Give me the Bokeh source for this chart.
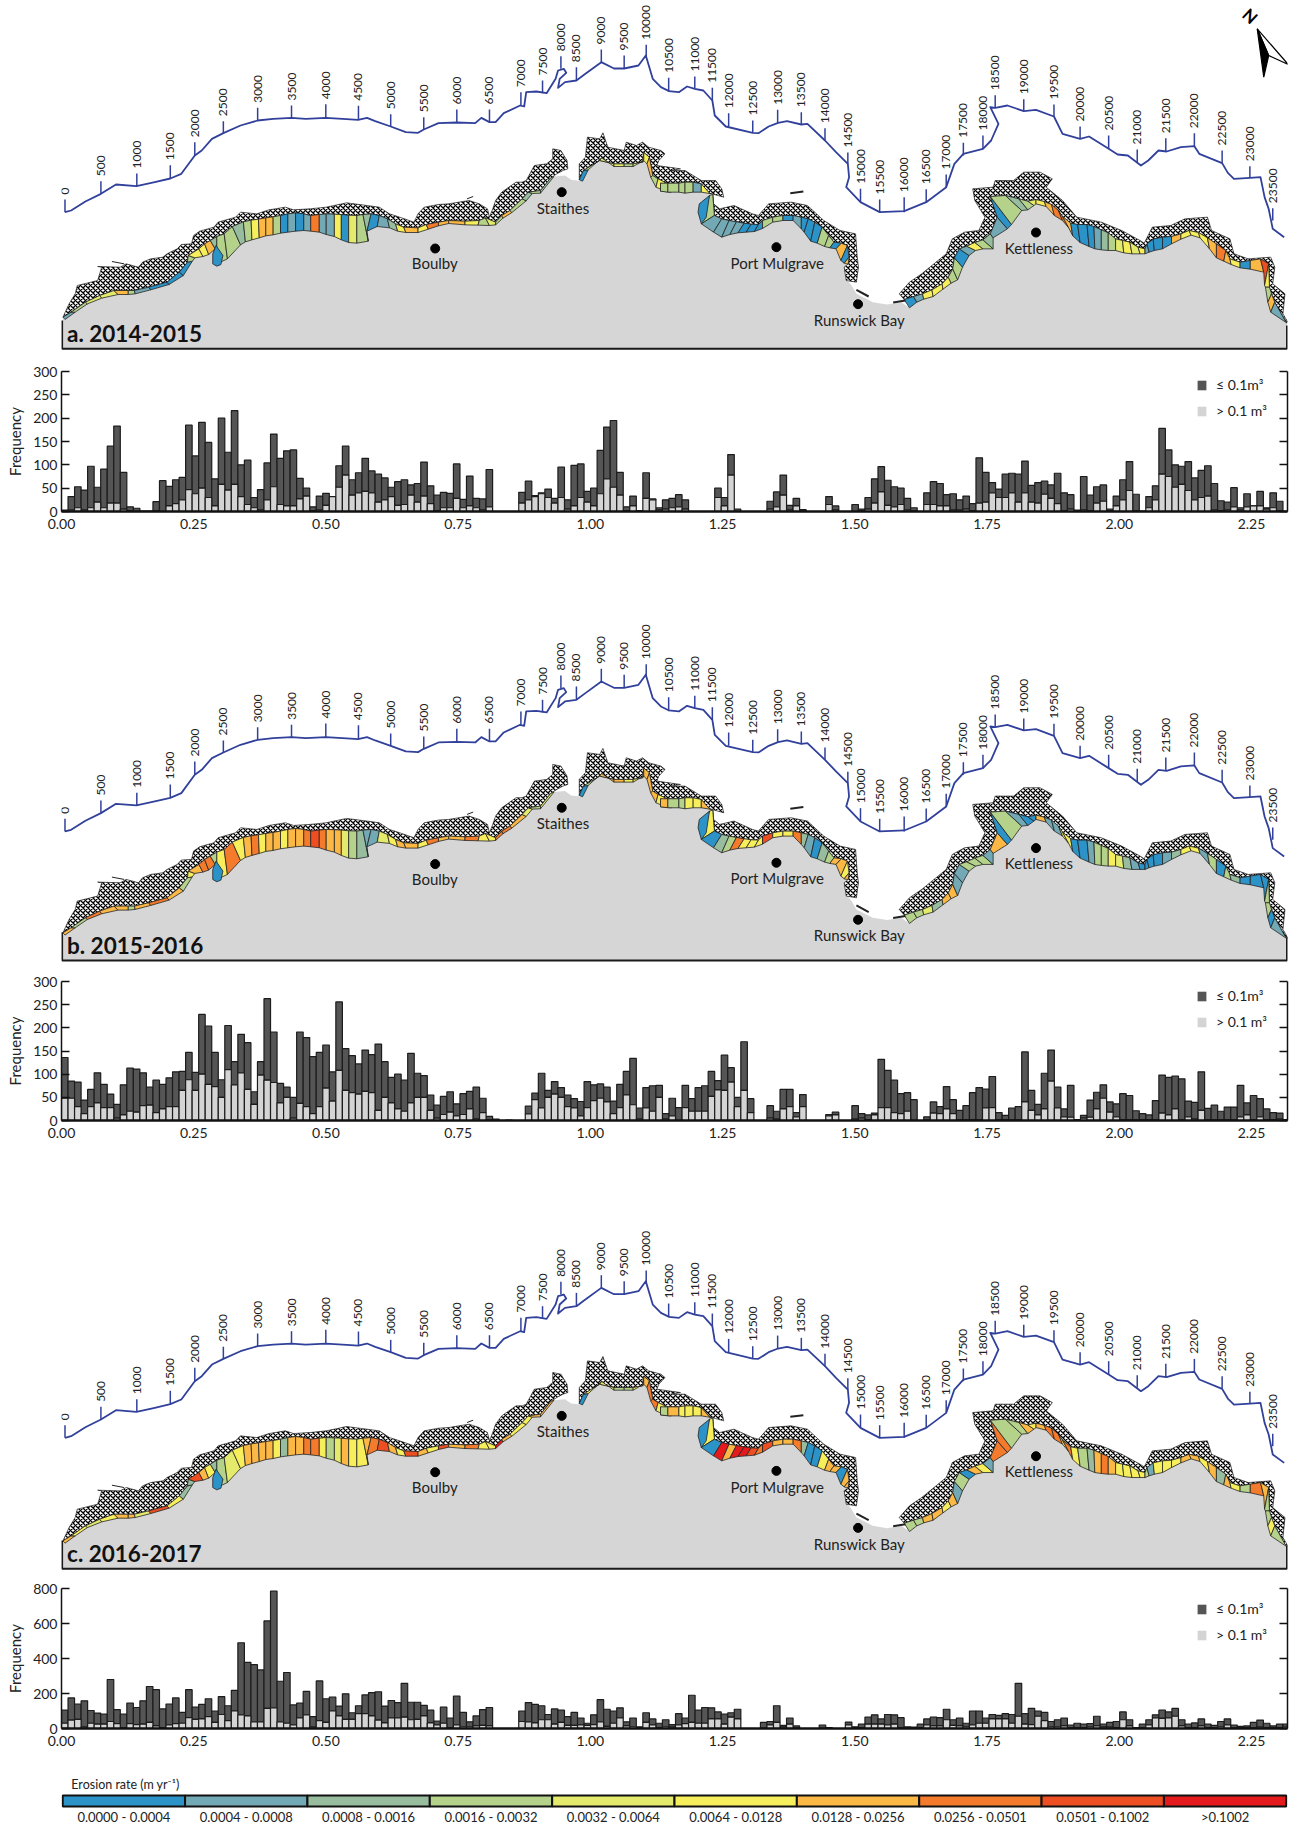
from bokeh.plotting import figure
from bokeh.layouts import column
from bokeh.models import Range1d, FixedTicker, LinearAxis, NumeralTickFormatter, Legend, LegendItem, Label
from bokeh.core.properties import value
from bokeh.embed import file_html
from bokeh.resources import INLINE
import math

FONT = "Lato"
PALETTE = ["#2c93c9", "#72a9b4", "#97bd9e", "#b5d28b", "#e3ea6c", "#f7ee5c", "#fbb845", "#f47b2b", "#ee4f22", "#e51a1c"]
RATE_LABELS = ["0.0000 - 0.0004", "0.0004 - 0.0008", "0.0008 - 0.0016", "0.0016 - 0.0032", "0.0032 - 0.0064",
               "0.0064 - 0.0128", "0.0128 - 0.0256", "0.0256 - 0.0501", "0.0501 - 0.1002", ">0.1002"]
BIN = 0.01235

A_TOTAL = [3,32,53,46,97,52,91,140,183,84, 10,7,1,1,21,66,54,68,73,185, 119,191,148,70,200,127,216,100,110,30,
           47,104,166,114,130,132,71,50,10,33, 39,32,98,140,68,83,114,87,80,72, 52,64,68,57,60,106,55,35,41,39,
           102,26,76,28,27,90,0,0,0,0, 41,65,34,40,48,28,95,25,99,102, 43,50,131,181,195,84,10,33,2,83,
           27,8,25,28,36,25,0,0,0,0, 50,30,122,5,0,0,0,0,22,42, 78,13,28,4,0,0,0,32,12,0,
           0,15,5,30,70,96,67,53,50,28, 8,0,40,64,60,36,38,25,33,17, 115,84,62,48,80,82,80,108,56,62,
           65,57,82,40,36,3,75,35,53,57, 5,33,68,107,37,1,32,55,178,132, 100,97,107,72,88,98,60,23,20,51,
           8,38,12,43,8,40,22,0]
A_LIGHT = [0,3,8,3,8,20,8,18,18,5, 2,0,0,0,2,0,12,17,25,47, 38,50,30,12,58,46,58,32,15,8,
           3,25,53,15,12,12,27,33,2,3, 13,32,52,78,35,40,43,40,20,25, 32,13,15,35,20,33,17,2,8,8,
           28,8,12,8,3,10,0,0,0,0, 18,25,32,38,30,18,30,5,12,30, 20,12,38,70,52,35,2,12,0,28,
           25,3,5,8,10,5,0,0,0,0, 30,12,78,0,0,0,0,0,5,10, 35,3,12,2,0,0,0,15,3,0,
           0,0,2,5,18,42,13,10,15,3, 1,0,15,15,12,12,3,3,5,2, 18,20,40,30,30,40,20,40,20,18,
           37,28,17,2,5,1,3,2,18,22, 2,12,25,45,2,0,8,25,80,75, 52,58,45,25,30,33,3,2,3,10,
           3,10,12,12,5,8,2,0]
B_TOTAL = [136,85,83,44,67,103,78,57,35,77, 113,111,103,72,87,78,92,105,106,147, 104,229,204,147,88,205,127,186,168,62,
           127,263,191,80,72,50,191,179,138,147, 163,105,256,155,140,122,152,142,165,127, 93,100,87,145,102,97,55,33,52,62,
           36,58,63,72,48,9,3,0,1,0, 0,31,59,102,65,84,71,55,47,41, 84,77,79,72,42,78,106,134,27,71,
           75,76,15,48,28,76,47,71,75,106, 86,141,114,50,170,47,0,0,32,20, 67,67,17,56,0,0,0,13,18,0,
           0,32,15,12,16,132,108,87,58,60, 45,0,8,40,30,73,45,22,32,60, 71,68,95,17,11,27,30,148,65,35,
           102,152,72,25,76,2,11,44,61,77, 40,36,58,54,21,15,12,43,98,93, 96,90,42,39,105,26,33,20,29,29,
           76,38,54,47,25,17,16,2]
B_LIGHT = [48,48,30,15,30,38,28,28,5,12, 20,18,32,33,17,25,30,30,65,88, 65,100,78,73,50,110,77,103,67,35,
           98,87,82,38,50,5,37,30,15,30, 70,42,108,65,60,57,63,60,22,50, 38,25,20,38,50,50,22,5,13,18,
           10,13,25,3,17,1,0,0,0,0, 0,14,45,27,50,57,50,30,27,10, 28,43,48,40,15,28,55,34,3,27,
           20,50,3,10,0,28,20,20,20,52, 66,65,83,30,65,17,0,0,5,3, 25,30,8,30,0,0,0,10,12,0,
           0,3,5,2,12,28,28,17,15,20, 0,0,1,16,15,25,15,1,1,1, 1,27,28,1,1,1,1,40,22,12,
           25,85,27,8,7,0,5,7,25,48, 18,8,1,1,1,1,1,1,16,12, 25,1,8,3,22,1,1,1,1,1,
           8,12,2,8,2,2,3,0]
C_TOTAL = [105,175,140,158,103,88,82,280,108,82, 145,120,158,240,222,112,140,175,92,222, 122,138,170,100,182,130,218,490,378,365,
           335,615,785,270,320,135,145,212,68,272, 170,180,128,198,90,130,192,205,210,128, 160,148,258,150,150,132,105,42,122,60,
           185,92,38,72,108,120,0,0,0,0, 100,148,138,130,80,112,105,68,92,60, 30,78,165,110,100,118,38,60,10,
           90,55,30,50,22,85,60,190,105,120,118, 95,82,90,110,0,0,0,35,40,130, 18,60,15,0,0,0,20,5,0,0,
           37,10,25,65,78,55,80,78,62,10, 8,25,55,65,62,110,50,60,30,100, 100,60,80,75,85,80,258,85,115,100,
           92,40,50,60,20,30,25,28,70,25, 35,40,95,50,5,25,50,78,105,95, 115,50,25,32,55,25,18,40,55,20,
           12,15,35,48,30,15,25,25]
C_LIGHT = [30,48,52,8,30,25,25,40,28,5, 28,22,25,35,15,5,20,28,30,62, 52,55,68,35,80,45,100,78,72,38,
           38,115,118,38,30,20,60,78,8,45, 35,100,72,52,52,85,85,72,48,32, 60,60,65,50,52,72,32,20,30,5,
           20,10,10,15,18,15,0,0,0,0, 40,38,32,50,50,25,35,18,18,20, 18,22,38,12,30,60,15,10,3,
           35,20,5,10,8,20,28,35,30,30,55, 55,25,65,55,0,0,0,1,20,35, 8,25,1,0,0,0,1,2,0,0,
           20,3,5,25,25,25,20,25,5,2, 1,5,20,15,15,50,18,15,10,20, 30,30,55,55,55,30,70,25,22,70,
           45,10,10,15,3,5,5,10,15,8, 8,5,50,15,1,5,20,60,58,60, 70,15,5,5,15,5,3,10,20,2,
           2,2,3,8,5,2,5,10]

# ---- map geometry, in map units (x = 40 + mx/2.45, y = my/3). R shifts the eastern half
R = 1519
STAFF_LINE = [(60,635),(75,630),(110,603),(148,580),(185,552),(235,557),(280,545),(318,534),(345,520),(378,465),(395,450),(420,415),(448,398),(490,375),(532,360),(570,355),(615,352),(650,355),(699,352),(750,356),(778,358),(800,352),(820,362),(858,378),(895,395),(925,397),(939,387),(975,368),(1020,366),(1065,368),(1080,352),(1100,365),(1115,365),(1135,338),(1175,315),(1185,318),(1190,275),(1215,273),(1240,278),(1262,235),(1268,210),(1282,205),(1288,217),(1272,235),(1268,262),(1285,245),(1313,240),(1335,220),(1374,185),(1405,204),(1430,204),(1465,195),(1483,165),(1500,235),(1520,260),(1540,272)]
STAFF_LINE_E = [(20,272),(45,275),(65,258),(84,265),(105,270),(127,300),(133,345),(160,378),(226,397),(240,398),(265,378),(288,367),(310,362),(345,372),(360,370),(403,420),(430,455),(459,490),(462,530),(455,560),(490,605),(537,635),(597,632),(651,605),(700,560),(720,490),(742,460),(790,445),(810,420),(828,370),(808,320),(820,322),(850,315),(890,332),(920,328),(964,348),(985,400),(1028,415),(1050,408),(1098,445),(1120,462),(1145,465),(1177,495),(1195,480),(1220,450),(1240,453),(1275,440),(1308,437),(1320,460),(1376,488),(1390,517),(1405,535),(1444,532),(1470,530),(1480,590),(1490,625),(1500,685),(1528,710)]
STAFF_VALUES = list(range(0, 24000, 500))
STAFF_TICKS = [(60,635,597),(148,580,542),(236,557,519),(318,534,494),(378,465,425),(448,398,362),(532,360,322),(615,352,315),(699,352,311),(779,358,316),(858,378,341),(939,387,350),(1020,366,327),(1100,365,327),(1177,315,275),(1230,278,240),(1275,205,167),(1313,240,200),(1374,185,147),(1430,204,165),(1484,168,133),
               (20+R,272,232),(84+R,265,228),(127+R,300,262),(167+R,378,338),(226+R,397,360),(287+R,367,328),(345+R,372,335),(403+R,420,383),(459+R,490,456),(490+R,605,565),(537+R,635,597),(597+R,635,590),(651+R,605,566),(700+R,560,522),(742+R,465,427),(790+R,445,405),(820+R,322,284),(890+R,332,296),(964+R,348,312),(1028+R,415,378),(1098+R,445,405),(1168+R,485,447),(1238+R,453,413),(1308+R,437,398),(1376+R,488,450),(1444+R,532,497),(1500+R,660,623)]

# cliff sections: outer x, outer y, inner x, inner y, erosion class for panels a, b, c
CLIFF_1 = [(55,950,60,957,"166"),(75,935,85,935,"335"),(110,905,115,910,"474"),(145,885,150,893,"465"),(180,870,190,882,"666"),(215,870,215,882,"336"),(230,870,232,880,"164"),(265,860,270,868,"078"),(310,845,315,852,"065"),(340,815,350,825,"032"),(360,785,372,782,"352"),(362,765,378,772,"568"),(388,745,398,768,"576"),(402,730,412,762,"675"),(416,720,428,745,"232"),
           (432,708,432,790,"353"),(450,700,458,775,"374"),(470,678,490,733,"255"),(497,664,502,724,"366"),(516,659,518,718,"576"),(534,656,536,712,"656"),(552,652,552,706,"666"),(570,649,570,703,"365"),(588,645,588,698,"052"),(606,640,606,695,"166"),(625,637,625,692,"066"),(645,640,645,690,"177"),(662,645,662,692,"787"),(683,642,683,695,"175"),(700,640,700,702,"163"),(720,641,720,708,"564"),(737,642,737,718,"046"),(755,644,755,726,"435"),(775,645,775,728,"325"),(790,642,803,722,"216"),(810,640,800,692,"017"),(830,645,825,678,"148"),(850,655,855,682,"256"),(870,670,875,692,"565"),(890,680,895,696,"668"),(925,682,925,696,"556"),(945,672,950,686,"775"),(975,665,975,676,"668"),(1000,660,1000,669,"666"),(1040,662,1040,673,"577"),(1075,660,1072,674,"355"),(1090,652,1100,675,"455"),(1115,665,1115,673,"379"),(1130,645,1133,653,"676"),(1150,630,1155,636,"365"),(1180,595,1190,601,"245"),(1195,575,1205,579,"336"),(1225,570,1225,578,"246"),(1250,532,1258,528,"000")]
CLIFF_2 = [(1320,538,1328,542,"000"),(1330,510,1342,508,"335"),(1370,480,1375,472,"465"),(1405,490,1405,498,"463"),(1430,490,1430,498,"353"),(1452,490,1452,498,"455"),(1475,485,1480,478,"556"),(1478,456,1478,480,"566"),(1492,470,1486,490,"667"),(1500,525,1495,530,"367"),(1513,535,1508,560,"555"),(1530,545,1527,570,"555"),(1547,555,1545,575,"366"),
           (R,548,R,572,"363"),(18+R,548,18+R,575,"336"),(45+R,548,45+R,575,"335"),(60+R,545,60+R,578,"355"),(80+R,545,80+R,575,"155"),(100+R,550,100+R,575,"566"),(120+R,578,125+R,580,"666")]
CLIFF_3 = [(128,582,120,585,"355"),(132,645,100,670,"100"),(150,655,130,695,"129"),(168,660,150,710,"136"),(186,664,170,702,"179"),(205,668,190,697,"059"),(222,671,210,695,"058"),(240,672,230,693,"057"),(250,660,250,684,"388"),(275,650,275,665,"356"),(300,645,300,660,"056"),(325,645,325,660,"177"),(345,650,345,685,"022"),(362,655,352,695,"010"),(378,665,368,722,"000"),(396,680,384,728,"325"),(412,705,402,738,"336"),(425,725,415,742,"066"),(443,728,430,745,"660"),(458,735,442,780,"056"),(462,770,450,788,"666"),(460,790,455,790,"666")]
CLIFF_4 = [(597,897,610,922,"033"),(620,888,628,905,"133"),(642,880,645,896,"546"),(665,868,668,888,"526"),(690,850,692,866,"565"),(705,830,712,848,"366"),(716,805,728,838,"311"),(720,772,740,800,"013"),(732,745,756,765,"130"),(750,737,772,750,"536"),(770,726,790,745,"335"),(790,718,815,745,"211"),(808,700,815,712,"167"),(825,650,850,685,"007"),(808,588,860,672,"333"),(845,585,885,630,"213"),(878,595,900,628,"306"),(900,602,915,615,"405"),(920,597,920,610,"566"),(940,603,945,618,"617"),(958,612,965,645,"717"),(975,630,985,660,"755"),(985,648,1000,682,"657"),(1005,668,1010,706,"005"),(1022,672,1028,726,"003"),(1045,672,1050,738,"012"),(1062,678,1064,745,"136"),(1080,688,1080,748,"237"),(1097,697,1097,750,"356"),(1115,715,1115,750,"445"),(1132,720,1135,757,"525"),(1150,725,1155,760,"415"),(1170,740,1175,760,"505"),(1187,745,1187,760,"103"),(1192,730,1197,755,"001"),(1207,716,1210,750,"005"),(1230,710,1230,745,"015"),(1252,708,1252,730,"625"),(1275,700,1275,716,"556"),(1295,690,1300,704,"556"),(1318,696,1322,712,"515"),(1340,712,1345,745,"636"),(1362,730,1362,772,"702"),(1385,750,1380,782,"636"),(1395,775,1398,792,"525"),(1420,785,1420,802,"003"),(1445,780,1445,806,"607"),(1470,775,1478,815,"806"),(1490,790,1480,855,"533"),(1492,860,1482,860,"333"),(1497,880,1488,905,"605"),(1505,905,1495,935,"113"),(1530,960,1535,968,"555")]
SEA_1 = [(70,910),(85,880),(90,855),(140,840),(150,800),(140,798),(195,800),(210,790),(240,800),(250,785),(270,775),(300,770),(310,760),(335,745),(345,732),(370,730),(375,705),(390,692),(425,680),(435,665),(478,650),(490,635),(530,640),(560,628),(600,620),(620,628),(660,625),(700,620),(750,607),(800,615),(830,620),(855,640),(880,650),(915,665),(925,640),(940,620),(975,612),(1000,610),(1050,600),(1075,610),(1095,625),(1100,650),(1108,625),(1115,600),(1130,575),(1165,545),(1180,545),(1190,540),(1210,495),(1240,490),(1255,475),(1255,445),(1275,450),(1290,480),(1292,505),(1280,510),(1265,520)]
SEA_2 = [(1320,490),(1335,470),(1340,410),(1370,415),(1378,397),(1390,440),(1430,450),(1435,425),(1460,435),(1475,425),(1490,440),(1520,450),(1530,460),(1515,480),(1510,495),(1568,505),(R+25,510),(R+60,510),(R+100,540),(R+135,540),(R+150,565),(R+155,590)]
SEA_3 = [(130,610),(145,625),(180,615),(225,640),(240,645),(265,610),(320,605),(360,615),(400,660),(440,690),(478,700),(482,770),(485,800),(480,845),(455,840),(450,800)]
SEA_4 = [(585,880),(610,845),(640,820),(670,790),(700,760),(715,715),(745,695),(780,690),(795,650),(770,600),(765,565),(815,560),(820,540),(865,540),(890,515),(930,515),(960,535),(945,560),(985,600),(1020,650),(1080,665),(1130,690),(1175,720),(1185,728),(1205,680),(1250,675),(1285,655),(1340,650),(1350,690),(1395,715),(1405,760),(1440,775),(1495,770),(1505,800),(1500,850),(1530,880),(1525,940),(1537,965)]
LOBES = [([(430,735),(422,760),(422,790),(432,797),(442,792),(447,765)], "000"),
         ([(120+R,585),(112+R,650),(100+R,670),(92+R,635),(95+R,610)], "000")]
ISLETS = [[(480+R,868),(510+R,888)],[(318+R,578),(350+R,573)],[(570+R,906),(600+R,900)]]
ISLETS_THIN = [[(175,783),(205,790)],[(1045,595),(1060,588)]]
BAY_EDGE = [(455,835),(468,855),(480,880),(520,905),(555,912),(590,905)]
PLACES = [("Boulby",967,744,966,788),("Staithes",1277,575,1280,621),("Port Mulgrave",284+R,740,286+R,787),("Runswick Bay",484+R,911,487+R,958),("Kettleness",920+R,696,927+R,741)]
ARROW_DARK = [(1462+R,85),(1490+R,165),(1478+R,230)]
ARROW_LIGHT = [(1462+R,85),(1538+R,192),(1490+R,165)]

def mx(v): return 40 + v / 2.45
def my(v): return v / 3

def east(rows):
    return [(r[0]+R, r[1], r[2]+R, r[3], r[4]) for r in rows]
def east2(pts):
    return [(a+R, b) for a, b in pts]

SECTIONS = [CLIFF_1, CLIFF_2, east(CLIFF_3), east(CLIFF_4)]
SEAS = [SEA_1, SEA_2, east2(SEA_3), east2(SEA_4)]

FW = 1295
FL = 61
FR = 8


def map_fig(top, bottom, idx, dcoast, dstaff, dpanel, title):
    p = figure(width=FW, height=bottom-top, x_range=Range1d(FL, FW-FR), y_range=Range1d(bottom, top),
               x_axis_type=None, y_axis_type=None, toolbar_location=None, output_backend="svg",
               min_border=0, min_border_left=FL, min_border_right=FR, min_border_top=0, min_border_bottom=0,
               outline_line_color=None)
    edge = [(55, 955)]
    for k, sec in enumerate(SECTIONS):
        edge += [(r[2], r[3]) for r in sec]
        if k == 0:
            edge += [(1285, 525), (1300, 538)]
        if k == 2:
            edge += east2(BAY_EDGE)
    edge.append((1535+R, 975))
    lx = [mx(a) for a, b in edge]
    ly = [my(b)+dcoast for a, b in edge]
    left, right = FL+0.6, mx(1535+R)
    base = my(1045)+dpanel
    p.patch(lx+[right, left], ly+[base, base], fill_color="#d6d6d6", line_color=None)
    p.line([left, left, right, right], [my(960)+dpanel, base, base, my(975)+dpanel], line_color="#1a1a1a", line_width=2)
    hx, hy = [], []
    for sec, sea in zip(SECTIONS, SEAS):
        pts = sea + [(r[0], r[1]) for r in reversed(sec)]
        hx.append([mx(a) for a, b in pts])
        hy.append([my(b)+dcoast for a, b in pts])
    p.patches(hx, hy, fill_color="white", hatch_pattern="diagonal_cross", hatch_color="black", hatch_scale=5,
              hatch_weight=1.3, line_color="#222222", line_width=0.7)
    cx, cy, cc = [], [], []
    for sec in SECTIONS:
        for r0, r1 in zip(sec[:-1], sec[1:]):
            pts = [(r0[0], r0[1]), (r1[0], r1[1]), (r1[2], r1[3]), (r0[2], r0[3])]
            cx.append([mx(a) for a, b in pts])
            cy.append([my(b)+dcoast for a, b in pts])
            cc.append(PALETTE[int(r0[4][idx])])
    for pts, cl in LOBES:
        cx.append([mx(a) for a, b in pts])
        cy.append([my(b)+dcoast for a, b in pts])
        cc.append(PALETTE[int(cl[idx])])
    p.patches(cx, cy, fill_color=cc, line_color="#222222", line_width=0.8)
    p.multi_line([[mx(a) for a, b in s] for s in ISLETS], [[my(b)+dcoast for a, b in s] for s in ISLETS],
                 line_color="#222222", line_width=2)
    p.multi_line([[mx(a) for a, b in s] for s in ISLETS_THIN], [[my(b)+dcoast for a, b in s] for s in ISLETS_THIN],
                 line_color="#222222", line_width=1)
    p.scatter([mx(r[1]) for r in PLACES], [my(r[2])+dcoast for r in PLACES], size=9, color="black")
    p.text([mx(r[3]) for r in PLACES], [my(r[4])+dcoast for r in PLACES], text=[r[0] for r in PLACES],
           text_font=value(FONT), text_font_size="15px", text_align="center", text_baseline="middle", text_color="#222222")
    sx = [mx(a) for a, b in STAFF_LINE] + [mx(a+R) for a, b in STAFF_LINE_E]
    sy = [my(b)+dstaff for a, b in STAFF_LINE] + [my(b)+dstaff for a, b in STAFF_LINE_E]
    p.line(sx, sy, line_color="#31409a", line_width=1.8, line_join="round")
    tx = [mx(t[0]) for t in STAFF_TICKS]
    p.segment(tx, [my(t[1])+dstaff for t in STAFF_TICKS], tx, [my(t[2])+dstaff for t in STAFF_TICKS],
              line_color="#31409a", line_width=1.5)
    p.text(tx, [my(t[2])+dstaff-5 for t in STAFF_TICKS], text=[str(v) for v in STAFF_VALUES], angle=math.pi/2,
           text_font=value(FONT), text_font_size="12px", text_align="left", text_baseline="middle", text_color="#222222")
    p.text([mx(65)], [my(1000)+dpanel], text=[title], text_font=value(FONT), text_font_style="bold",
           text_font_size="22.5px", text_baseline="middle", text_color="#111111")
    if idx == 0:
        p.patch([mx(a) for a, b in ARROW_LIGHT], [my(b) for a, b in ARROW_LIGHT], fill_color="white", line_color="black", line_width=1.2)
        p.patch([mx(a) for a, b in ARROW_DARK], [my(b) for a, b in ARROW_DARK], fill_color="black", line_color="black", line_width=1.2)
        p.text([mx(1445+R)], [my(46)], text=["N"], angle=-0.75, text_font=value(FONT), text_font_style="bold",
               text_font_size="17px", text_align="center", text_baseline="middle", text_color="black")
    return p


def hist_fig(total, light, ymax, step, height, top, frame, bottom, legend_bottom):
    p = figure(width=FW, height=height, x_range=Range1d(0, 2.318), y_range=Range1d(0, ymax),
               toolbar_location=None, output_backend="svg", min_border_left=FL, min_border_right=FR,
               min_border_top=top, min_border_bottom=bottom, outline_line_color=None)
    p.grid.visible = False
    xs = [(i+0.5)*BIN for i in range(len(total))]
    p.vbar(x=xs, width=BIN, bottom=light, top=total, fill_color="#555555", line_color="#1c1c1c", line_width=1.2)
    p.vbar(x=xs, width=BIN, bottom=0, top=light, fill_color="#d4d4d4", line_color="#1c1c1c", line_width=1.2)
    ticks = list(range(0, ymax+1, step))
    ax = p.xaxis[0]
    ax.ticker = FixedTicker(ticks=[0, .25, .5, .75, 1, 1.25, 1.5, 1.75, 2, 2.25])
    ax.formatter = NumeralTickFormatter(format="0.00")
    ax.major_tick_in = 0
    ax.major_tick_out = 0
    ax.minor_tick_out = 0
    ax.minor_tick_in = 0
    ax.axis_line_width = 2.5
    ax.axis_line_color = "#111111"
    ax.major_label_text_font = FONT
    ax.major_label_text_font_size = "14px"
    ax.major_label_text_color = "#222222"
    ax.major_label_standoff = 7
    p.add_layout(Label(x=1.199, y=-34*ymax/frame, text="Distance along coast (× 10⁴ m)", text_font=FONT, text_font_size="16.5px",
                       text_color="#222222", text_align="center", text_baseline="middle"))
    ay = p.yaxis[0]
    ay.ticker = FixedTicker(ticks=ticks)
    ay.major_tick_in = 8
    ay.major_tick_out = 0
    ay.minor_tick_in = 0
    ay.minor_tick_out = 0
    ay.axis_line_width = 1.5
    ay.major_tick_line_width = 1.5
    ay.axis_line_color = "#111111"
    ay.major_tick_line_color = "#111111"
    ay.major_label_text_font = FONT
    ay.major_label_text_font_size = "14px"
    ay.major_label_text_color = "#222222"
    ay.major_label_standoff = 4
    ay.axis_label = "Frequency"
    ay.axis_label_text_font = FONT
    ay.axis_label_text_font_style = "normal"
    ay.axis_label_text_font_size = "15px"
    ay.axis_label_text_color = "#222222"
    ay.axis_label_standoff = 6
    rt = LinearAxis(ticker=FixedTicker(ticks=ticks), major_tick_in=8, major_tick_out=0, minor_tick_in=0, minor_tick_out=0,
                    axis_line_width=1.5, major_tick_line_width=1.5, axis_line_color="#111111", major_tick_line_color="#111111",
                    major_label_overrides={t: "" for t in ticks}, major_label_standoff=0, major_label_text_font_size="1px")
    p.add_layout(rt, "right")
    # swatches for the legend: their single box lies left of the visible range
    k1 = p.quad(left=[-1], right=[-0.9], top=[1], bottom=[0], fill_color="#555555", line_color=None)
    k2 = p.quad(left=[-1], right=[-0.9], top=[1], bottom=[0], fill_color="#d4d4d4", line_color=None)
    lg = Legend(items=[LegendItem(label="≤ 0.1m³", renderers=[k1]), LegendItem(label="> 0.1 m³", renderers=[k2])],
                location=(1135, legend_bottom), orientation="vertical", background_fill_alpha=0, border_line_color=None,
                padding=0, margin=0, glyph_width=11, glyph_height=12, spacing=9, label_standoff=9, label_height=12,
                label_text_font=FONT, label_text_font_size="14px", label_text_color="#222222")
    p.add_layout(lg, "center")
    return p


def scale_fig():
    p = figure(width=FW, height=54, x_range=Range1d(-0.01, 10.01), y_range=Range1d(54, 0),
               x_axis_type=None, y_axis_type=None, toolbar_location=None, output_backend="svg",
               min_border=0, min_border_left=FL, min_border_right=FR, min_border_top=0, min_border_bottom=0, outline_line_color=None)
    n = len(PALETTE)
    p.quad(left=list(range(n)), right=list(range(1, n+1)), top=[23]*n, bottom=[34]*n, fill_color=PALETTE,
           line_color="#111111", line_width=2)
    p.text([i+0.5 for i in range(n)], [44]*n, text=RATE_LABELS, text_font=value(FONT), text_font_size="13px",
           text_align="center", text_baseline="middle", text_color="#222222")
    p.text([0.07], [12], text=["Erosion rate (m yr⁻¹)"], text_font=value(FONT), text_font_size="12.5px",
           text_baseline="middle", text_color="#222222")
    return p


page = column(
    map_fig(0, 351, 0, 0, 0, 0, "a. 2014-2015"),
    hist_fig(A_TOTAL, A_LIGHT, 300, 50, 214, 20, 140, 54, 92),
    map_fig(565, 964, 1, 615.6, 619.3, 611.7, "b. 2015-2016"),
    hist_fig(B_TOTAL, B_LIGHT, 300, 50, 211, 17, 139, 55, 90),
    map_fig(1175, 1571, 2, 1223.7, 1225.7, 1220, "c. 2016-2017"),
    hist_fig(C_TOTAL, C_LIGHT, 800, 200, 201, 17, 140, 44, 85),
    scale_fig(),
)
open("out.html", "w").write(file_html(page, INLINE))
